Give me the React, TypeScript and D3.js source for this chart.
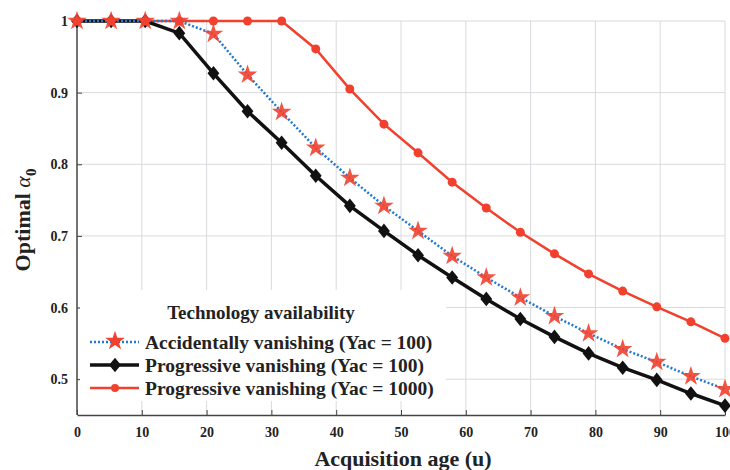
import { useEffect, useRef } from 'react';
import * as d3 from 'd3';

// acquisition age samples (20 points from 0 to 100)
const ages = d3.range(20).map((i) => (i * 100) / 19);

const accidental100 = [
  1, 1, 1, 1, 0.982, 0.925, 0.873, 0.823, 0.781, 0.742, 0.707, 0.672, 0.642, 0.614, 0.588, 0.564,
  0.542, 0.524, 0.504, 0.486,
];
const progressive100 = [
  1, 1, 1, 0.983, 0.927, 0.874, 0.83, 0.784, 0.742, 0.707, 0.673, 0.642, 0.612, 0.584, 0.559, 0.536,
  0.516, 0.499, 0.48, 0.463,
];
const progressive1000 = [
  1, 1, 1, 1, 1, 1, 1, 0.961, 0.905, 0.856, 0.816, 0.775, 0.739, 0.705, 0.675, 0.647, 0.623, 0.601,
  0.58, 0.557,
];

const xTicks = [0, 10, 20, 30, 40, 50, 60, 70, 80, 90, 100];
const yTicks = [0.5, 0.6, 0.7, 0.8, 0.9, 1];
const legendLabels = [
  'Accidentally vanishing (Yac = 100)',
  'Progressive vanishing (Yac = 100)',
  'Progressive vanishing (Yac = 1000)',
];

const RED = '#f2402e';
const BLUE = '#1f78d1';
const BLACK = '#111111';
const FONT = 'Liberation Serif, serif';

const Chart = () => {
  const ref = useRef<SVGSVGElement>(null);

  useEffect(() => {
    if (!ref.current) return;
    const svg = d3.select(ref.current);
    svg.selectAll('*').remove();

    const width = 730;
    const height = 470;
    const left = 77;
    const right = 725;
    const top = 21;
    const bottom = 415;

    const x = d3.scaleLinear().domain([0, 100]).range([left, right]);
    const y = d3.scaleLinear().domain([0.45, 1]).range([bottom, top]);

    svg.attr('width', width).attr('height', height).style('font-family', FONT);

    // grid
    const grid = svg.append('g').attr('stroke', '#d9dadd').attr('stroke-width', 1);
    grid
      .selectAll('line.gx')
      .data(xTicks.slice(1))
      .join('line')
      .attr('x1', (d) => x(d))
      .attr('x2', (d) => x(d))
      .attr('y1', top)
      .attr('y2', bottom);
    grid
      .selectAll('line.gy')
      .data(yTicks)
      .join('line')
      .attr('x1', left)
      .attr('x2', right)
      .attr('y1', (d) => y(d))
      .attr('y2', (d) => y(d));

    // axes
    const xAxis = svg
      .append('g')
      .attr('transform', `translate(0,${bottom})`)
      .call(d3.axisBottom(x).tickValues(xTicks).tickSizeInner(-5).tickSizeOuter(0).tickPadding(12));
    const yAxis = svg
      .append('g')
      .attr('transform', `translate(${left},0)`)
      .call(
        d3
          .axisLeft(y)
          .tickValues(yTicks)
          .tickFormat((d) => (d === 1 ? '1' : d3.format('.1f')(d as number)))
          .tickSizeInner(-5)
          .tickSizeOuter(0)
          .tickPadding(9),
      );
    [xAxis, yAxis].forEach((g) => {
      g.attr('font-family', null);
      g.select('.domain').attr('stroke', '#444').attr('stroke-width', 1.5);
      g.selectAll('.tick line').attr('stroke', '#444');
      g.selectAll('.tick text')
        .style('font-family', FONT)
        .attr('font-size', 14)
        .attr('font-weight', 'bold')
        .attr('fill', '#222');
    });
    yAxis.select('.domain').attr('d', `M0,${top}V${bottom}`);

    // legend background
    svg.append('rect').attr('x', 80).attr('y', 290).attr('width', 366).attr('height', 111).attr('fill', '#fff');

    const line = d3
      .line<number>()
      .x((_, i) => x(ages[i]))
      .y((d) => y(d));

    const star = d3.symbol().type(d3.symbolStar).size(120);
    const diamond = d3.symbol().type(d3.symbolDiamond).size(62);

    const plot = svg.append('g');

    // progressive 1000 (red, circles)
    plot
      .append('path')
      .datum(progressive1000)
      .attr('fill', 'none')
      .attr('stroke', RED)
      .attr('stroke-width', 2.5)
      .attr('d', line);
    plot
      .selectAll('circle.p1000')
      .data(progressive1000)
      .join('circle')
      .attr('cx', (_, i) => x(ages[i]))
      .attr('cy', (d) => y(d))
      .attr('r', 4.5)
      .attr('fill', RED);

    // progressive 100 (black, diamonds)
    plot
      .append('path')
      .datum(progressive100)
      .attr('fill', 'none')
      .attr('stroke', BLACK)
      .attr('stroke-width', 3.5)
      .attr('d', line);
    plot
      .selectAll('path.dia')
      .data(progressive100)
      .join('path')
      .attr('transform', (d, i) => `translate(${x(ages[i])},${y(d)}) scale(1.4,1)`)
      .attr('d', diamond)
      .attr('fill', BLACK);

    // accidental 100 (blue dotted, stars)
    plot
      .append('path')
      .datum(accidental100)
      .attr('fill', 'none')
      .attr('stroke', BLUE)
      .attr('stroke-width', 2.5)
      .attr('stroke-dasharray', '2,2')
      .attr('d', line);
    plot
      .selectAll('path.star')
      .data(accidental100)
      .join('path')
      .attr('transform', (d, i) => `translate(${x(ages[i])},${y(d)})`)
      .attr('d', star)
      .attr('fill', RED)
      .attr('opacity', 0.9);

    // red dots drawn again on top where all curves sit at 1
    plot
      .selectAll('circle.top')
      .data(progressive1000.filter((d, i) => d === 1 && i < 3))
      .join('circle')
      .attr('cx', (_, i) => x(ages[i]))
      .attr('cy', (d) => y(d))
      .attr('r', 4.5)
      .attr('fill', RED);

    // legend
    const legend = svg.append('g');
    legend
      .append('text')
      .attr('x', 261)
      .attr('y', 319)
      .attr('text-anchor', 'middle')
      .style('font-family', FONT)
      .attr('font-size', 19)
      .attr('font-weight', 'bold')
      .attr('fill', '#222')
      .text('Technology availability');

    const rows = [342, 365, 388];
    const styles = [
      { stroke: BLUE, width: 2.5, dash: '2,2' },
      { stroke: BLACK, width: 3.5, dash: null },
      { stroke: RED, width: 2.5, dash: null },
    ];
    legendLabels.forEach((label, i) => {
      const ly = rows[i];
      legend
        .append('line')
        .attr('x1', 90)
        .attr('x2', 139)
        .attr('y1', ly)
        .attr('y2', ly)
        .attr('stroke', styles[i].stroke)
        .attr('stroke-width', styles[i].width)
        .attr('stroke-dasharray', styles[i].dash);
      if (i === 0) {
        legend.append('path').attr('transform', `translate(115,${ly - 1})`).attr('d', star).attr('fill', RED);
      } else if (i === 1) {
        legend.append('path').attr('transform', `translate(115,${ly}) scale(1.4,1)`).attr('d', diamond).attr('fill', BLACK);
      } else {
        legend.append('circle').attr('cx', 115).attr('cy', ly).attr('r', 4).attr('fill', RED);
      }
      legend
        .append('text')
        .attr('x', 145)
        .attr('y', ly + 7)
        .style('font-family', FONT)
        .attr('font-size', 19.5)
        .attr('font-weight', 'bold')
        .attr('fill', '#222')
        .text(label);
    });

    // axis titles
    svg
      .append('text')
      .attr('x', 403)
      .attr('y', 466)
      .attr('text-anchor', 'middle')
      .style('font-family', FONT)
      .attr('font-size', 22)
      .attr('font-weight', 'bold')
      .attr('fill', '#222')
      .text('Acquisition age (u)');

    const yl = svg
      .append('text')
      .attr('transform', 'translate(30,220) rotate(-90)')
      .attr('text-anchor', 'middle')
      .style('font-family', FONT)
      .attr('font-size', 22)
      .attr('font-weight', 'bold')
      .attr('fill', '#222');
    yl.append('tspan').text('Optimal ');
    yl.append('tspan').attr('font-style', 'italic').attr('font-weight', 'normal').text('α');
    yl.append('tspan').attr('font-size', 15).attr('dy', 6).text('0');
  }, []);

  return <svg ref={ref} style={{ display: 'block' }} />;
};

export default function App() {
  return (
    <div style={{ position: 'absolute', left: 0, top: 0, background: '#fff' }}>
      <Chart />
    </div>
  );
}
